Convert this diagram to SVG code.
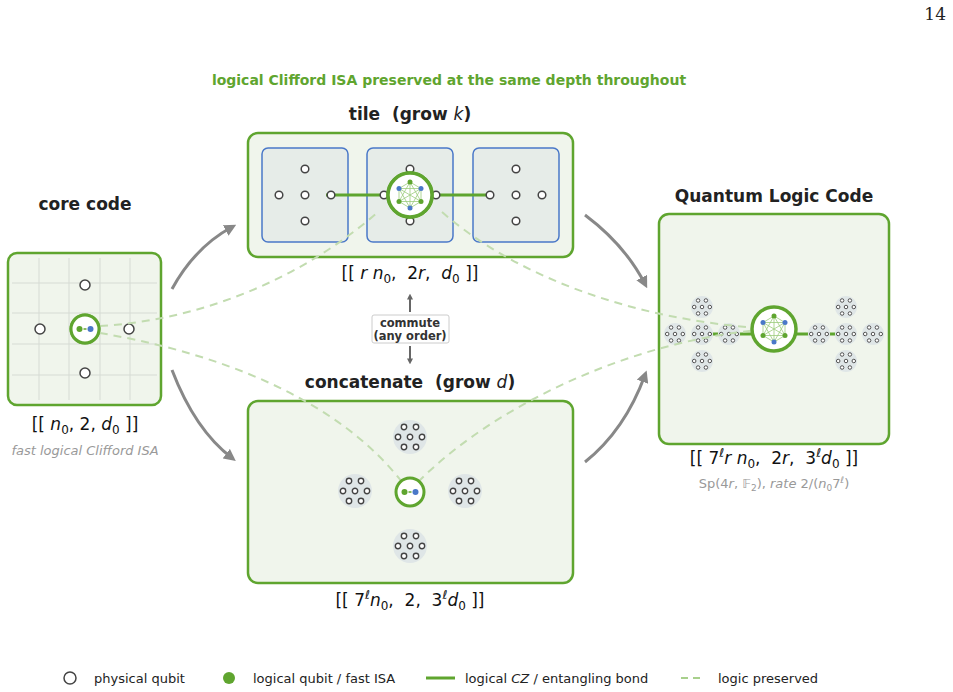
<svg xmlns="http://www.w3.org/2000/svg" xmlns:xlink="http://www.w3.org/1999/xlink" width="953" height="692" viewBox="0 0 953 692">
<style>
text{font-family:"DejaVu Sans","Liberation Sans",sans-serif;white-space:pre;}
.box{fill:#f0f5ec;stroke:#5fa52f;stroke-width:2.5}
.ibox{fill:#e6ece8;stroke:#4a78c8;stroke-width:1.5}
.q{fill:#fff;stroke:#444;stroke-width:1.5}
.sq{fill:#fff;stroke:#444;stroke-width:1.4}
.bond{stroke:#5fa52f;stroke-width:3;fill:none}
.dash{stroke:#c2dcb0;stroke-width:2;stroke-dasharray:8 6;fill:none}
.arr{stroke:#888;stroke-width:3;fill:none}
.t{font-weight:bold;font-size:17px;fill:#222;text-anchor:middle}
.m{font-size:17px;fill:#111;text-anchor:middle}
.g{font-size:13px;fill:#999;text-anchor:middle;font-style:italic}
.gg{fill:#5fa52f}.bb{fill:#4a78c8}
.lg{font-size:13px;fill:#222}
</style>
<defs>
<marker id="ah" viewBox="0 0 10 10" refX="6" refY="5" markerWidth="4" markerHeight="4" orient="auto"><path d="M0,0L10,5L0,10z" fill="#888"/></marker>
<marker id="sa" viewBox="0 0 10 10" refX="6" refY="5" markerWidth="3" markerHeight="3" orient="auto"><path d="M0,0L10,5L0,10z" fill="#666"/></marker>
<g id="cl">
<circle r="17" fill="#dfe6e7"/>
<circle class="sq" cx="-6" cy="-10" r="2.7"/><circle class="sq" cx="6" cy="-10" r="2.7"/>
<circle class="sq" cx="-12" cy="0" r="2.7"/><circle class="sq" cx="0" cy="0" r="2.7"/><circle class="sq" cx="12" cy="0" r="2.7"/>
<circle class="sq" cx="-6" cy="10" r="2.7"/><circle class="sq" cx="6" cy="10" r="2.7"/>
</g>
<g id="kg">
<circle r="22" fill="#fff" stroke="#5fa52f" stroke-width="3.5"/>
<g stroke="#9ccc7c" stroke-width="0.8">
<path d="M0,-13L11,-6.5L11,6.5L0,13L-11,6.5L-11,-6.5Z M0,-13L11,6.5M0,-13L0,13M0,-13L-11,6.5M11,-6.5L0,13M11,-6.5L-11,6.5M11,-6.5L-11,-6.5M11,6.5L-11,6.5M11,6.5L-11,-6.5M0,13L-11,-6.5" fill="none"/>
</g>
<circle cx="0" cy="-13" r="2.5" class="gg"/><circle cx="11" cy="-6.5" r="2.5" class="bb"/><circle cx="11" cy="6.5" r="2.5" class="gg"/>
<circle cx="0" cy="13" r="2.5" class="bb"/><circle cx="-11" cy="6.5" r="2.5" class="gg"/><circle cx="-11" cy="-6.5" r="2.5" class="bb"/>
</g>
<g id="sg">
<circle r="14" fill="#fff" stroke="#5fa52f" stroke-width="3"/>
<line x1="-1.5" y1="0" x2="1.5" y2="0" stroke="#5fa52f" stroke-width="1.5"/>
<circle cx="-5.5" cy="0" r="3" class="gg"/><circle cx="5.5" cy="0" r="3" class="bb"/>
</g>
</defs>
<rect width="953" height="692" fill="#fff"/>
<text x="946" y="20" font-size="17" fill="#222" text-anchor="end" style="font-family:'DejaVu Serif',serif">14</text>
<text x="449" y="85" font-size="14" font-weight="bold" fill="#5fa52f" text-anchor="middle">logical Clifford ISA preserved at the same depth throughout</text>

<g id="core">
<text class="t" x="85" y="210">core code</text>
<rect class="box" x="8" y="253" width="153" height="152" rx="9"/>
<g stroke="#d6dbd4" stroke-width="1">
<line x1="39" y1="258" x2="39" y2="400"/><line x1="69" y1="258" x2="69" y2="400"/><line x1="100" y1="258" x2="100" y2="400"/><line x1="130" y1="258" x2="130" y2="400"/>
<line x1="12" y1="283" x2="157" y2="283"/><line x1="12" y1="313" x2="157" y2="313"/><line x1="12" y1="344" x2="157" y2="344"/><line x1="12" y1="375" x2="157" y2="375"/>
</g>
<circle class="q" cx="85" cy="285" r="5"/><circle class="q" cx="40" cy="329" r="5"/><circle class="q" cx="129" cy="329" r="5"/><circle class="q" cx="85" cy="373" r="5"/>
<use href="#sg" x="85" y="329"/>
<text class="m" x="85" y="430">[[ <tspan font-style="italic">n</tspan><tspan font-size="12" dy="4">0</tspan><tspan dy="-4">, 2, </tspan><tspan font-style="italic">d</tspan><tspan font-size="12" dy="4">0</tspan><tspan dy="-4"> ]]</tspan></text>
<text class="g" x="85" y="455">fast logical Clifford ISA</text>
</g>

<g id="tile">
<text class="t" x="410" y="120">tile  (grow <tspan font-style="italic" font-weight="normal">k</tspan>)</text>
<rect class="box" x="248" y="133" width="325" height="124" rx="10"/>
<rect class="ibox" x="262" y="148" width="86" height="94" rx="6"/>
<rect class="ibox" x="367" y="148" width="86" height="94" rx="6"/>
<rect class="ibox" x="473" y="148" width="86" height="94" rx="6"/>
<line class="bond" x1="326" y1="195" x2="388" y2="195"/>
<line class="bond" x1="432" y1="195" x2="494" y2="195"/>
<circle class="q" cx="305" cy="169" r="3.8"/><circle class="q" cx="279" cy="195" r="3.8"/><circle class="q" cx="305" cy="195" r="3.8"/><circle class="q" cx="331" cy="195" r="3.8"/><circle class="q" cx="305" cy="221" r="3.8"/>
<circle class="q" cx="410" cy="169" r="3.8"/><circle class="q" cx="384" cy="195" r="3.8"/><circle class="q" cx="436" cy="195" r="3.8"/><circle class="q" cx="410" cy="221" r="3.8"/>
<circle class="q" cx="516" cy="169" r="3.8"/><circle class="q" cx="490" cy="195" r="3.8"/><circle class="q" cx="516" cy="195" r="3.8"/><circle class="q" cx="542" cy="195" r="3.8"/><circle class="q" cx="516" cy="221" r="3.8"/>
<use href="#kg" x="410" y="195"/>
<text class="m" x="410" y="279">[[ <tspan font-style="italic">r n</tspan><tspan font-size="12" dy="4">0</tspan><tspan dy="-4">,  2</tspan><tspan font-style="italic">r</tspan>,  <tspan font-style="italic">d</tspan><tspan font-size="12" dy="4">0</tspan><tspan dy="-4"> ]]</tspan></text>
</g>

<g id="concat">
<text class="t" x="410" y="388">concatenate  (grow <tspan font-style="italic" font-weight="normal">d</tspan>)</text>
<rect class="box" x="248" y="401" width="325" height="182" rx="10"/>
<use href="#cl" x="410" y="437"/><use href="#cl" x="355" y="491"/><use href="#cl" x="465" y="491"/><use href="#cl" x="410" y="546"/>
<text class="m" x="410" y="606">[[ 7<tspan font-style="italic" font-size="12" dy="-7">ℓ</tspan><tspan font-style="italic" dy="7">n</tspan><tspan font-size="12" dy="4">0</tspan><tspan dy="-4">,  2,  3</tspan><tspan font-style="italic" font-size="12" dy="-7">ℓ</tspan><tspan font-style="italic" dy="7">d</tspan><tspan font-size="12" dy="4">0</tspan><tspan dy="-4"> ]]</tspan></text>
</g>

<g id="qlc">
<text class="t" x="774" y="202">Quantum Logic Code</text>
<rect class="box" x="659" y="214" width="230" height="230" rx="10"/>
<line class="bond" x1="702" y1="334" x2="755" y2="334"/>
<line class="bond" x1="793" y1="334" x2="846" y2="334"/>
<g transform="translate(702,307) scale(0.65)"><use href="#cl"/></g>
<g transform="translate(675,334) scale(0.65)"><use href="#cl"/></g>
<g transform="translate(702,334) scale(0.65)"><use href="#cl"/></g>
<g transform="translate(729,334) scale(0.65)"><use href="#cl"/></g>
<g transform="translate(702,361) scale(0.65)"><use href="#cl"/></g>
<g transform="translate(846,307) scale(0.65)"><use href="#cl"/></g>
<g transform="translate(819,334) scale(0.65)"><use href="#cl"/></g>
<g transform="translate(846,334) scale(0.65)"><use href="#cl"/></g>
<g transform="translate(873,334) scale(0.65)"><use href="#cl"/></g>
<g transform="translate(846,361) scale(0.65)"><use href="#cl"/></g>
<text class="m" x="774" y="464">[[ 7<tspan font-style="italic" font-size="12" dy="-7">ℓ</tspan><tspan font-style="italic" dy="7">r n</tspan><tspan font-size="12" dy="4">0</tspan><tspan dy="-4">,  2</tspan><tspan font-style="italic">r</tspan>,  3<tspan font-style="italic" font-size="12" dy="-7">ℓ</tspan><tspan font-style="italic" dy="7">d</tspan><tspan font-size="12" dy="4">0</tspan><tspan dy="-4"> ]]</tspan></text>
<text x="774" y="488" font-size="13" fill="#999" text-anchor="middle">Sp(4<tspan font-style="italic">r</tspan>, 𝔽<tspan font-size="9" dy="3">2</tspan><tspan dy="-3">), </tspan><tspan font-style="italic">rate</tspan> 2/(<tspan font-style="italic">n</tspan><tspan font-size="9" dy="3">0</tspan><tspan dy="-3">7</tspan><tspan font-style="italic" font-size="9" dy="-5">ℓ</tspan><tspan dy="5">)</tspan></text>
</g>

<g id="connectors">
<path class="dash" d="M100,326 C200,320 300,280 378,212"/>
<path class="dash" d="M442,212 C520,280 640,320 760,328"/>
<path class="dash" d="M100,333 C200,350 330,390 402,482"/>
<path class="dash" d="M418,482 C500,400 640,340 760,330"/>
<path class="arr" marker-end="url(#ah)" d="M172,289 Q195,247 232,227"/>
<path class="arr" marker-end="url(#ah)" d="M585,215 Q625,245 645,284"/>
<path class="arr" marker-end="url(#ah)" d="M172,370 Q195,430 232,458"/>
<path class="arr" marker-end="url(#ah)" d="M585,462 Q625,430 645,375"/>
<line x1="410" y1="312" x2="410" y2="296" stroke="#666" stroke-width="2" marker-end="url(#sa)"/>
<line x1="410" y1="346" x2="410" y2="362" stroke="#666" stroke-width="2" marker-end="url(#sa)"/>
</g>

<g id="logicals">
<use href="#sg" x="85" y="329"/>
<use href="#kg" x="410" y="195"/>
<use href="#sg" x="410" y="492"/>
<use href="#kg" x="774" y="329"/>
</g>

<g id="commute">
<rect x="372" y="315" width="77" height="28" fill="#fff" stroke="#ccc" stroke-width="1" rx="2"/>
<text x="410" y="327" font-size="11.5" font-weight="bold" fill="#333" text-anchor="middle">commute</text>
<text x="410" y="340" font-size="11.5" font-weight="bold" fill="#333" text-anchor="middle">(any order)</text>
</g>

<g id="legend">
<circle class="q" cx="70" cy="678" r="6"/>
<text class="lg" x="94" y="683">physical qubit</text>
<circle cx="229" cy="678" r="6" class="gg"/>
<text class="lg" x="253" y="683">logical qubit / fast ISA</text>
<line x1="426" y1="678" x2="455" y2="678" class="bond"/>
<text class="lg" x="465" y="683">logical <tspan font-style="italic">CZ</tspan> / entangling bond</text>
<line x1="681" y1="678" x2="705" y2="678" stroke="#a8d08c" stroke-width="2" stroke-dasharray="7 5"/>
<text class="lg" x="718" y="683">logic preserved</text>
</g>
</svg>
